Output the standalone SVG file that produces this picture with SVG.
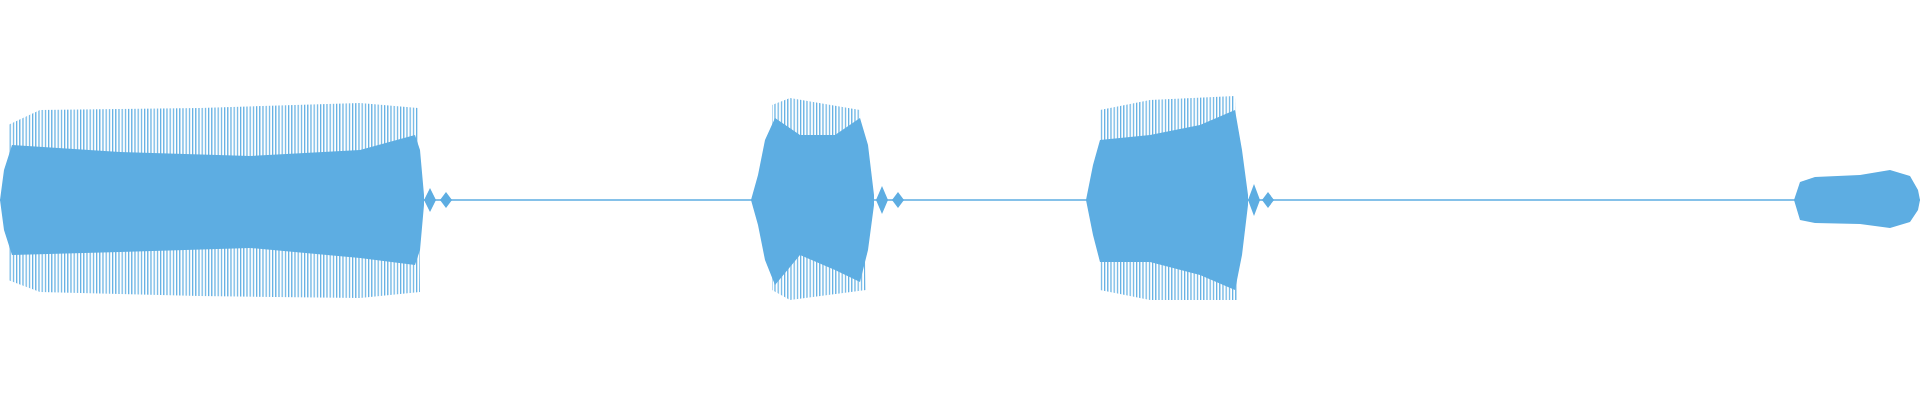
<svg xmlns="http://www.w3.org/2000/svg" width="1920" height="400" viewBox="0 0 1920 400">
<defs>
<pattern id="st" width="3.2" height="10" patternUnits="userSpaceOnUse"><rect x="0" y="0" width="1.2" height="10" fill="#5DADE2"/></pattern>
<style>.s{fill:#5DADE2}.p{fill:url(#st)}</style>
</defs>
<rect width="1920" height="400" fill="#fff"/>
<line x1="0" y1="200" x2="1920" y2="200" stroke="#5DADE2" stroke-width="1.5"/>
<g id="b1">
<path class="p" d="M8,125 L40,110 L200,108 L360,103 L418,108 L420,292 L360,298 L200,296 L40,292 L8,280 Z"/>
<path class="s" d="M0,200 L4,170 L12,145 L120,152 L250,156 L360,150 L415,135 L420,150 L424,195 L424,205 L420,250 L415,265 L360,258 L250,248 L120,252 L12,255 L4,230 Z"/>
<path class="s" d="M424,200 L430,188 L436,200 L430,212 Z M440,200 L446,192 L452,200 L446,208 Z"/>
</g>
<g id="b2">
<path class="p" d="M772,105 L790,98 L860,110 L866,290 L790,300 L772,290 Z"/>
<path class="s" d="M751,200 L758,175 L765,140 L775,118 L800,135 L835,135 L860,118 L868,145 L874,195 L874,205 L868,250 L860,282 L835,270 L800,255 L775,285 L765,260 L758,225 Z"/>
<path class="s" d="M876,200 L882,186 L888,200 L882,214 Z M892,200 L898,192 L904,200 L898,208 Z"/>
</g>
<g id="b3">
<path class="p" d="M1100,110 L1150,100 L1235,96 L1238,300 L1150,300 L1100,290 Z"/>
<path class="s" d="M1086,200 L1093,165 L1100,140 L1150,135 L1200,125 L1235,110 L1242,150 L1248,195 L1248,205 L1242,255 L1235,290 L1200,275 L1150,262 L1100,262 L1093,235 Z"/>
<path class="s" d="M1248,200 L1254,184 L1260,200 L1254,216 Z M1262,200 L1268,192 L1274,200 L1268,208 Z"/>
</g>
<g id="b4">
<path class="s" d="M1794,200 L1800,182 L1815,177 L1860,175 L1890,170 L1910,176 L1918,190 L1920,200 L1918,210 L1910,222 L1890,228 L1860,224 L1815,223 L1800,220 Z"/>
</g>
</svg>
